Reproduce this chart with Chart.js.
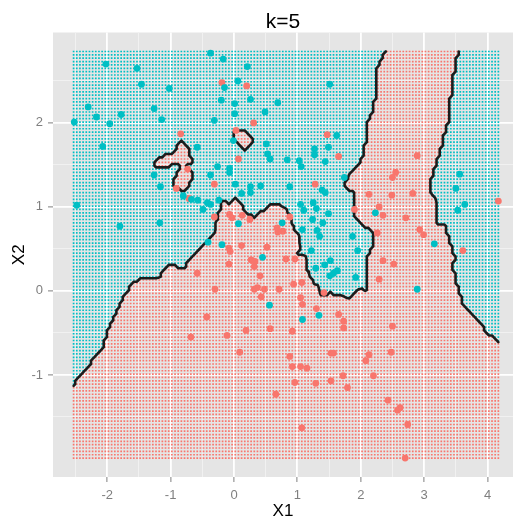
<!DOCTYPE html>
<html>
<head>
<meta charset="utf-8">
<script src="https://cdn.jsdelivr.net/npm/chart.js@4/dist/chart.umd.min.js"></script>
<style>
html,body{margin:0;padding:0;background:#ffffff;}
#wrap{width:517px;height:520px;}
</style>
</head>
<body>
<div id="wrap"><canvas id="c" width="517" height="520"></canvas></div>
<script>
// ---------- data ----------
const chartTitle = 'k=5';
const xTitle = 'X1';
const yTitle = 'X2';
const K = 5;

// class "red" (#F8766D)
const redX1 = [-0.84,-0.73,-0.91,-0.19,0.20,0.31,0.03,1.47,0.07,1.65,-0.31,1.28,2.89,2.55,2.50,2.13,2.49,2.82,4.17,2.29,
  1.90,2.35,2.71,2.93,2.99,2.26,3.61,2.35,2.52,2.29,1.65,1.73,1.73,2.50,-0.71,-0.58,-0.43,-0.07,-0.03,-0.31,
  0.13,0.25,0.88,0.68,0.77,0.69,-0.08,-0.06,0.12,0.52,-0.08,0.27,0.33,0.32,0.82,0.96,0.41,1.07,0.94,-0.30,
  0.32,0.37,0.48,0.71,1.42,0.43,1.05,1.08,1.30,0.19,0.57,-0.11,0.92,0.09,0.88,0.92,1.05,1.15,1.53,1.57,
  0.96,1.29,1.53,1.72,1.79,0.66,1.07,2.13,2.08,2.48,2.20,2.43,2.58,2.62,2.74,2.70,-0.68];
const redX2 = [1.87,1.45,1.22,2.48,2.44,2.00,1.91,1.86,1.57,1.60,1.27,1.27,1.61,1.41,1.35,1.15,1.14,1.16,1.07,1.00,
  0.97,0.90,0.87,0.73,0.67,0.69,0.48,0.36,0.32,0.14,-0.28,-0.36,-0.44,-0.42,1.10,0.21,-0.31,0.91,0.87,0.88,
  0.90,0.85,0.88,0.75,0.71,0.70,0.51,0.47,0.54,0.52,0.32,0.37,0.35,0.29,0.38,0.38,0.18,0.10,0.08,0.02,
  0.02,0.04,0.02,0.02,-0.02,-0.07,-0.08,-0.16,-0.21,-0.47,-0.45,-0.53,-0.48,-0.73,-0.78,-0.90,-0.90,-0.92,-0.74,-0.74,
  -1.09,-1.10,-1.07,-1.01,-1.15,-1.23,-1.63,-0.76,-0.83,-0.73,-1.01,-1.30,-1.42,-1.39,-1.59,-1.99,-0.55];

// class "cyan" (#00BFC4)
const cyanX1 = [-2.02,-1.53,-1.46,-1.02,-2.30,-1.26,-1.78,-2.17,-1.14,-2.52,-1.96,-2.07,-0.58,-1.26,-1.16,-0.37,-0.17,0.21,0.06,-0.15,
  1.51,-0.20,0.26,0.69,0.01,0.01,0.49,-0.31,-0.01,0.51,0.53,0.57,0.84,1.03,1.06,1.27,1.49,1.27,1.62,1.44,
  -0.26,-0.07,-0.07,-0.37,0.02,0.26,0.42,0.88,1.39,1.74,3.56,3.50,3.64,3.53,2.23,1.87,1.95,1.63,1.92,3.16,
  2.89,-2.48,-1.80,-1.17,-0.80,-0.67,-0.57,-0.49,-0.42,-0.41,0.12,0.26,1.44,-0.24,-0.37,1.05,1.10,1.25,1.30,1.49,
  1.24,1.40,0.76,0.07,1.08,1.31,1.35,-0.19,1.22,1.52,1.43,1.29,1.57,1.51,0.45,0.56,1.34,1.08];
const cyanX2 = [2.70,2.65,2.46,2.41,2.19,2.17,2.10,2.07,2.04,2.01,1.99,1.72,1.71,1.38,1.24,2.83,2.76,2.67,2.50,2.42,
  2.46,2.27,2.28,2.24,2.23,2.11,2.13,2.03,1.79,1.75,1.63,1.57,1.56,1.55,1.48,1.69,1.71,1.62,1.85,1.54,
  1.48,1.46,1.41,1.38,1.27,1.24,1.25,1.24,1.20,1.35,1.39,1.22,1.03,0.96,0.93,0.65,0.48,0.24,0.16,0.56,
  0.02,1.02,0.77,0.81,1.13,1.09,1.08,0.97,1.05,0.58,1.16,1.17,1.17,1.08,1.03,1.03,0.96,1.05,0.98,0.92,
  0.85,0.81,0.81,0.80,0.73,0.72,0.65,0.55,0.48,0.36,0.31,0.27,0.21,0.18,0.40,-0.17,-0.29,-0.34];

// axis settings
const xRange = [-2.855, 4.401];
const yRange = [-2.215, 3.076];
const xTickLabels = [-2, -1, 0, 1, 2, 3, 4];
const yTickLabels = [-1, 0, 1, 2];

// prediction grid
const gridX = {start: -2.53, step: 0.05, count: 135};
const gridY = {start: -1.99, step: 0.04, count: 122};

// ---------- styles ----------
const RED = '#F8766D', CYAN = '#00BFC4';
const FONT = '"Liberation Sans", Arial, Helvetica, sans-serif';

// ---------- k nearest neighbours ----------
const train = [];
redX1.forEach((x, i) => train.push({x: x, y: redX2[i], c: 1}));
cyanX1.forEach((x, i) => train.push({x: x, y: cyanX2[i], c: 0}));

function knnProb(x, y) {
  const bd = new Array(K).fill(Infinity), bc = new Array(K).fill(0);
  for (const p of train) {
    const dx = p.x - x, dy = p.y - y, d = dx * dx + dy * dy;
    if (d < bd[K - 1]) {
      let k = K - 1;
      while (k > 0 && bd[k - 1] > d) { bd[k] = bd[k - 1]; bc[k] = bc[k - 1]; k--; }
      bd[k] = d; bc[k] = p.c;
    }
  }
  let s = 0; for (let k = 0; k < K; k++) s += bc[k];
  return s / K;
}

const gxs = [], gys = [];
for (let i = 0; i < gridX.count; i++) gxs.push(Math.round((gridX.start + i * gridX.step) * 10000) / 10000);
for (let j = 0; j < gridY.count; j++) gys.push(Math.round((gridY.start + j * gridY.step) * 10000) / 10000);
const nx = gxs.length, ny = gys.length;
const P = new Float64Array(nx * ny);
const gridRed = [], gridCyan = [];
for (let j = 0; j < ny; j++) {
  for (let i = 0; i < nx; i++) {
    const p = knnProb(gxs[i], gys[j]);
    P[j * nx + i] = p;
    (p > 0.5 ? gridRed : gridCyan).push({x: gxs[i], y: gys[j]});
  }
}

// ---------- contour at 0.5 (marching squares) ----------
function buildContours(level) {
  const V = (i, j) => P[j * nx + i];
  const key = e => e[0] + e[1] + '_' + e[2];
  function edgePoint(e) {
    const [t, i, j] = e;
    let x1 = gxs[i], y1 = gys[j], v1 = V(i, j), x2, y2, v2;
    if (t === 'h') { x2 = gxs[i + 1]; y2 = gys[j]; v2 = V(i + 1, j); }
    else { x2 = gxs[i]; y2 = gys[j + 1]; v2 = V(i, j + 1); }
    const f = (level - v1) / (v2 - v1);
    return {x: x1 + f * (x2 - x1), y: y1 + f * (y2 - y1)};
  }
  const segs = [];
  for (let j = 0; j < ny - 1; j++) {
    for (let i = 0; i < nx - 1; i++) {
      const a = V(i, j), b = V(i + 1, j), c = V(i + 1, j + 1), d = V(i, j + 1);
      const ia = a > level, ib = b > level, ic = c > level, id = d > level;
      const e0 = ['h', i, j], e1 = ['v', i + 1, j], e2 = ['h', i, j + 1], e3 = ['v', i, j];
      const list = [];
      if (ia !== ib) list.push(e0);
      if (ib !== ic) list.push(e1);
      if (id !== ic) list.push(e2);
      if (ia !== id) list.push(e3);
      if (list.length === 2) segs.push([list[0], list[1]]);
      else if (list.length === 4) {
        const ctr = (a + b + c + d) / 4 > level;
        if (ia !== ctr) { segs.push([e3, e0]); segs.push([e1, e2]); }
        else { segs.push([e0, e1]); segs.push([e2, e3]); }
      }
    }
  }
  const adj = new Map();
  segs.forEach((s, idx) => s.forEach(e => {
    const k = key(e); if (!adj.has(k)) adj.set(k, []); adj.get(k).push(idx);
  }));
  const used = new Array(segs.length).fill(false);
  const lines = [];
  function walk(startIdx, startEdge) {
    const out = [startEdge]; let idx = startIdx, cur = startEdge;
    while (idx !== -1 && !used[idx]) {
      used[idx] = true;
      const s = segs[idx];
      const next = key(s[0]) === key(cur) ? s[1] : s[0];
      out.push(next);
      const cand = adj.get(key(next)).filter(t => !used[t]);
      idx = cand.length ? cand[0] : -1;
      cur = next;
    }
    return out;
  }
  for (const [k, lst] of adj) {
    if (lst.length === 1 && !used[lst[0]]) {
      const s = segs[lst[0]];
      lines.push(walk(lst[0], key(s[0]) === k ? s[0] : s[1]));
    }
  }
  for (let i = 0; i < segs.length; i++) if (!used[i]) lines.push(walk(i, segs[i][0]));
  return lines.map(l => l.map(edgePoint));
}
const contourLines = buildContours(0.5);

// ---------- chart ----------
const isMajor = v => Math.abs(v - Math.round(v)) < 1e-9;

const panelBg = {
  id: 'panelBg',
  beforeDraw(chart) {
    const {ctx, chartArea: a} = chart;
    ctx.save();
    ctx.fillStyle = '#E5E5E5';
    ctx.fillRect(a.left, a.top, a.right - a.left, a.bottom - a.top);
    ctx.restore();
  }
};

const datasets = [];
datasets.push({label: 'grid red', data: gridRed, pointStyle: 'rect', pointRadius: 1.2,
  backgroundColor: RED, borderWidth: 0, order: 10});
datasets.push({label: 'grid cyan', data: gridCyan, pointStyle: 'rect', pointRadius: 1.2,
  backgroundColor: CYAN, borderWidth: 0, order: 10});
contourLines.forEach((ln, i) => datasets.push({
  label: 'boundary ' + i, data: ln, showLine: true, pointRadius: 0, borderColor: '#1c1c1c',
  borderWidth: 2.6, borderJoinStyle: 'round', borderCapStyle: 'round', tension: 0, fill: false, order: 5
}));
datasets.push({label: 'red', data: redX1.map((x, i) => ({x: x, y: redX2[i]})),
  pointRadius: 3.4, backgroundColor: RED, borderWidth: 0, order: 2});
datasets.push({label: 'cyan', data: cyanX1.map((x, i) => ({x: x, y: cyanX2[i]})),
  pointRadius: 3.4, backgroundColor: CYAN, borderWidth: 0, order: 1});

function axisGrid(labels) {
  const lo = Math.min(...labels) - 0.5, hi = Math.max(...labels) + 0.5;
  const shown = v => v > lo - 1e-9 && v < hi + 1e-9;
  return {
    drawTicks: true,
    tickLength: 5,
    color: c => !shown(c.tick.value) ? 'rgba(0,0,0,0)' : (isMajor(c.tick.value) ? '#FFFFFF' : '#F2F2F2'),
    lineWidth: c => isMajor(c.tick.value) ? 1.8 : 0.9,
    tickColor: c => (isMajor(c.tick.value) && labels.includes(Math.round(c.tick.value))) ? '#7F7F7F' : 'rgba(0,0,0,0)',
    tickWidth: 1
  };
}

new Chart(document.getElementById('c').getContext('2d'), {
  type: 'scatter',
  data: {datasets: datasets},
  options: {
    responsive: false,
    animation: false,
    events: [],
    layout: {padding: 0},
    plugins: {
      legend: {display: false},
      tooltip: {enabled: false},
      title: {display: true, text: chartTitle, fullSize: false, color: '#000000',
        font: {family: FONT, size: 21, weight: 'normal', lineHeight: 1}, padding: {top: 11.5, bottom: 0}}
    },
    scales: {
      x: {
        type: 'linear', min: xRange[0], max: xRange[1],
        afterFit: s => { s.height = 43; },
        border: {display: false},
        grid: axisGrid(xTickLabels),
        ticks: {stepSize: 0.5, includeBounds: false, autoSkip: false, maxRotation: 0,
          color: '#7F7F7F', font: {family: FONT, size: 13}, padding: 6,
          callback: v => (isMajor(v) && xTickLabels.includes(Math.round(v))) ? String(Math.round(v)) : ''},
        title: {display: true, text: xTitle, color: '#000000', font: {family: FONT, size: 17, lineHeight: 1}, padding: {top: 0, bottom: 0}}
      },
      y: {
        type: 'linear', min: yRange[0], max: yRange[1],
        afterFit: s => { s.width = 53; },
        border: {display: false},
        grid: axisGrid(yTickLabels),
        ticks: {stepSize: 0.5, includeBounds: false, autoSkip: false,
          color: '#7F7F7F', font: {family: FONT, size: 13}, padding: 5,
          callback: v => (isMajor(v) && yTickLabels.includes(Math.round(v))) ? String(Math.round(v)) : ''},
        title: {display: true, text: yTitle, color: '#000000', font: {family: FONT, size: 17, lineHeight: 1}, padding: {top: 11, bottom: 0}}
      }
    }
  },
  plugins: [panelBg]
});
</script>
</body>
</html>
